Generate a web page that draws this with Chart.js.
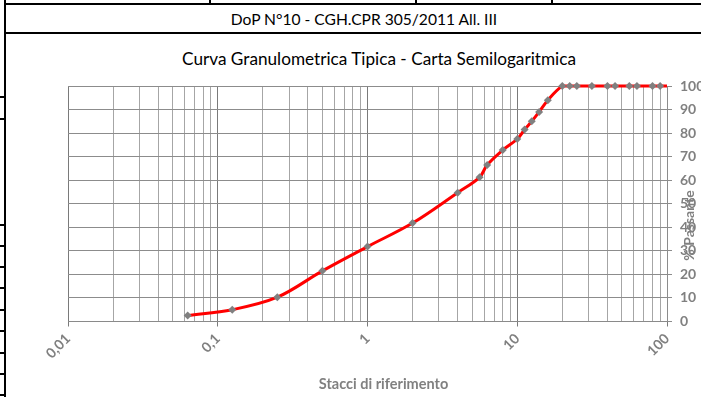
<!DOCTYPE html>
<html><head><meta charset="utf-8">
<script src="https://cdn.jsdelivr.net/npm/chart.js@4"></script>
<style>
html,body{margin:0;padding:0;background:#fff;width:701px;height:405px;overflow:hidden;font-family:Lato,"Open Sans",sans-serif}
.ln{position:absolute;background:#000}
#hdr{position:absolute;left:164px;width:400px;top:9px;text-align:center;font-size:15.6px;line-height:20px;color:#000;white-space:nowrap}
#ttl{position:absolute;left:179px;width:400px;top:48px;text-align:center;font-size:17.2px;line-height:22px;color:#000;white-space:nowrap}
#wrap{position:absolute;left:0;top:0;width:701px;height:405px}
</style></head><body>
<div class="ln" style="left:4px;top:0;width:2px;height:397px"></div>
<div class="ln" style="left:4px;top:3px;width:697px;height:2px"></div>
<div class="ln" style="left:4px;top:32px;width:697px;height:2px"></div>
<div class="ln" style="left:209px;top:0;width:2px;height:4px"></div>
<div class="ln" style="left:415px;top:0;width:2px;height:4px"></div>
<div class="ln" style="left:551px;top:0;width:2px;height:4px"></div>
<div id="ticksL"></div>
<div id="hdr">DoP N°10 - CGH.CPR 305/2011 All. III</div>
<div id="ttl">Curva Granulometrica Tipica - Carta Semilogaritmica</div>
<div id="wrap"><canvas id="c" width="701" height="405"></canvas></div>
<script>
// ---- data ----
const sieveSizes = [0.063, 0.125, 0.25, 0.5, 1, 2, 4, 5.6, 6.3, 8, 10, 11.2, 12.5, 14, 16, 20, 22.4, 25, 31.5, 40, 45, 56, 63, 80, 90, 100];
const passing    = [2.5, 5.0, 10.3, 21.5, 31.8, 41.8, 54.7, 61.2, 66.5, 72.8, 77.5, 81.5, 85.0, 89.0, 94.0, 100, 100, 100, 100, 100, 100, 100, 100, 100, 100, 100];
const xTickValues = [0.01, 0.1, 1, 10, 100];
const xTickLabels = ['0,01', '0,1', '1', '10', '100'];
const yTickLabels = ['0', '10', '20', '30', '40', '50', '60', '70', '80', '90', '100'];
const xTitle = 'Stacci di riferimento';
const yTitle = '% Passante';

// left-edge table ticks (page decoration)
const leftTickYs = [96, 118, 224, 245, 266, 287, 309, 330, 352, 373, 394];
const tl = document.getElementById('ticksL');
leftTickYs.forEach(y => { const d = document.createElement('div'); d.className = 'ln'; d.style.cssText = 'left:0;top:' + y + 'px;width:5px;height:2px'; tl.appendChild(d); });

const points = sieveSizes.map((x, i) => ({x: x, y: passing[i]}));
const isMajor = v => xTickValues.some(t => Math.abs(t - v) / t < 1e-6);

const axisTitlesPlugin = {
  id: 'axisTitles',
  afterDraw(chart) {
    const a = chart.chartArea, ctx = chart.ctx;
    ctx.save();
    ctx.fillStyle = '#808080';
    ctx.textAlign = 'center';
    ctx.textBaseline = 'middle';
    ctx.font = 'bold 14.5px Lato, sans-serif';
    ctx.fillText(xTitle, (a.left + a.right) / 2 + 16, a.bottom + 63);
    ctx.translate(a.right + 22, a.bottom - 96);
    ctx.rotate(-Math.PI / 2);
    ctx.font = 'bold 14px Lato, sans-serif';
    ctx.fillText(yTitle, 0, 0);
    ctx.restore();
  }
};

new Chart(document.getElementById('c'), {
  type: 'line',
  data: { datasets: [{
    data: points,
    borderColor: '#ff0000',
    borderWidth: 3,
    tension: 0.35,
    pointStyle: 'rectRot',
    pointRadius: ctx => ctx.dataIndex === sieveSizes.length - 1 ? 0 : 4,
    pointBackgroundColor: '#808080',
    pointBorderColor: '#808080',
    pointBorderWidth: 0,
    clip: false
  }]},
  options: {
    responsive: false,
    devicePixelRatio: 1,
    animation: false,
    layout: { padding: { left: 68, top: 86, right: 0, bottom: 10 } },
    plugins: { legend: { display: false }, tooltip: { enabled: false }, title: { display: false } },
    scales: {
      x: {
        type: 'logarithmic', min: 0.01, max: 100, position: 'bottom',
        afterBuildTicks: s => {
          const t = [];
          for (let e = -2; e < 2; e++) for (let m = 1; m < 10; m++) t.push({ value: +(m * Math.pow(10, e)).toPrecision(3) });
          t.push({ value: 100 });
          s.ticks = t;
        },
        afterFit: s => { s.height = 73.5; },
        ticks: {
          autoSkip: false, minRotation: 45, maxRotation: 45, padding: 4,
          color: '#808080', font: { family: 'Lato', size: 14, weight: 'bold' },
          callback: v => { const i = xTickValues.findIndex(t => Math.abs(t - v) / t < 1e-6); return i >= 0 ? xTickLabels[i] : ''; }
        },
        grid: {
          color: c => (c.tick && isMajor(c.tick.value)) ? '#7a7a7a' : '#a6a6a6',
          tickColor: c => (c.tick && isMajor(c.tick.value)) ? '#7a7a7a' : 'rgba(0,0,0,0)',
          tickLength: 5, lineWidth: 1
        },
        border: { color: '#8a8a8a', width: 1 },
        title: { display: false }
      },
      y: {
        position: 'right', min: 0, max: 100,
        afterFit: s => { s.width = 34; },
        ticks: { stepSize: 10, padding: 8, color: '#808080', font: { family: 'Lato', size: 14, weight: 'bold' },
          callback: (v, i) => yTickLabels[i] },
        grid: { color: '#8c8c8c', tickColor: '#8c8c8c', tickLength: 5, lineWidth: 1 },
        border: { color: '#8c8c8c', width: 1 }
      }
    }
  },
  plugins: [axisTitlesPlugin]
});
</script>
</body></html>
